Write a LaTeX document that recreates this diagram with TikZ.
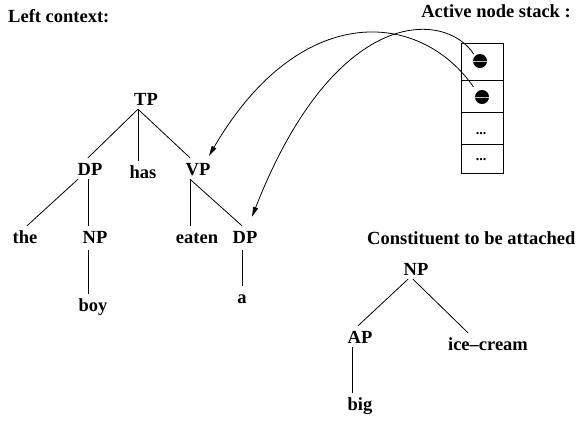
\documentclass[tikz,border=0pt]{standalone}
\usepackage{fontspec}
\setmainfont{Liberation Serif}
\usetikzlibrary{arrows.meta}
\begin{document}
\begin{tikzpicture}[x=1pt,y=-1pt,
  lbl/.style={inner sep=0pt, anchor=base, text height=17pt, text depth=4pt, font=\fontsize{18.5}{20}\selectfont\bfseries},
  ttl/.style={inner sep=0pt, font=\fontsize{18.5}{20}\selectfont\bfseries},
  edge/.style={line width=0.8pt},
  arr/.style={line width=0.8pt, -{Triangle[length=10pt,width=5pt]}},
  cell/.style={draw, line width=0.9pt, minimum width=42pt, inner sep=0pt},
  blob/.style={circle, fill=black, minimum size=14pt, inner sep=0pt},
  ell/.style={inner sep=0pt, anchor=base, font=\fontsize{14}{15}\selectfont\bfseries}]
\useasboundingbox (0,0) rectangle (578,421);

% titles
\node[ttl, anchor=base west] (lc) at (8,22) {Left context:};
\node[ttl, anchor=base east] (ans) at (571,17) {Active node stack :};
\node[ttl, anchor=base west] (cba) at (367,244) {Constituent to be attached};

% stack
\node[cell, minimum height=37pt] (s1) at (482,61.5) {};
\node[cell, minimum height=32pt] (s2) at (482,96) {};
\node[cell, minimum height=32pt] (s3) at (482,128) {};
\node[cell, minimum height=29pt] (s4) at (482,158.5) {};
\node[blob] (c1) at (480,61) {};
\node[blob] (c2) at (482,97) {};
\draw[gray!50, line width=0.4pt] (c1.west) -- (c1.east);
\draw[gray!50, line width=0.4pt] (c2.west) -- (c2.east);
\node[ell] (d3) at (481,134) {...};
\node[ell] (d4) at (481,160) {...};

% left tree
\node[lbl] (TP) at (146,105) {TP};
\node[lbl] (DPa) at (90,175) {DP};
\node[lbl] (has) at (143,178) {has};
\node[lbl] (VP) at (198,175) {VP};
\node[lbl] (the) at (25,243) {the};
\node[lbl] (NPa) at (95,243) {NP};
\node[lbl] (eaten) at (197,243) {eaten};
\node[lbl] (DPb) at (245,243) {DP};
\node[lbl] (boy) at (93,311) {boy};
\node[lbl] (a) at (242,303) {a};

\draw[edge] ([xshift=-8pt]TP.south) -- ([xshift=-2pt]DPa.north);
\draw[edge] ([xshift=-8pt]TP.south) -- ([xshift=-5pt]has.north);
\draw[edge] ([xshift=-8pt]TP.south) -- ([xshift=-8pt]VP.north);
\draw[edge] ([xshift=-12pt]DPa.south) -- ([xshift=2pt]the.north);
\draw[edge] ([xshift=-2pt]DPa.south) -- ([xshift=-7pt]NPa.north);
\draw[edge] ([xshift=-7pt,yshift=-3pt]NPa.south) -- ([xshift=-5pt]boy.north);
\draw[edge] ([xshift=-8pt]VP.south) -- ([xshift=-7pt]eaten.north);
\draw[edge] ([xshift=-8pt]VP.south) -- ([xshift=-3pt]DPb.north);
\draw[edge] ([xshift=-3pt,yshift=-3pt]DPb.south) -- (a.north);

% right tree
\node[lbl] (NPb) at (416,275) {NP};
\node[lbl] (AP) at (360,343) {AP};
\node[lbl] (ice) at (488,350) {ice--cream};
\node[lbl] (big) at (360,410) {big};
\draw[edge] ([xshift=-8pt]NPb.south) -- ([xshift=-2pt]AP.north);
\draw[edge] ([xshift=-3pt]NPb.south) -- ([xshift=-20pt]ice.north);
\draw[edge] ([xshift=-8pt]AP.south) -- ([xshift=-8pt]big.north);

% arrows
\draw[arr, shorten <=2pt] (c1.135) .. controls (445,10) and (335,5) .. ([shift={(7pt,9pt)}]DPb.north);
\draw[arr, shorten <=6pt] (c2.135) .. controls (420,10) and (300,0) .. ([shift={(11pt,2pt)}]VP.north);
\end{tikzpicture}
\end{document}
